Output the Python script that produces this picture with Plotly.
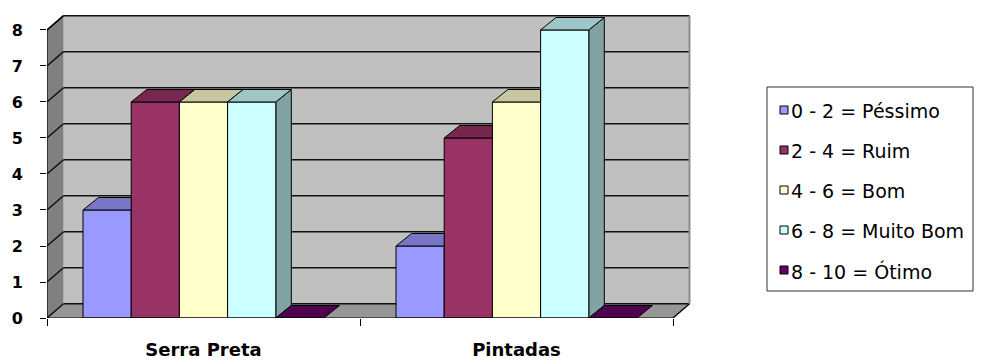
import plotly.graph_objects as go

# ---- data -------------------------------------------------------------
locais = ["Serra Preta", "Pintadas"]
classes = ["0 - 2 = Péssimo", "2 - 4 = Ruim", "4 - 6 = Bom",
           "6 - 8 = Muito Bom", "8 - 10 = Ótimo"]
pessimo = [3, 2]
ruim = [6, 5]
bom = [6, 6]
muito_bom = [6, 8]
otimo = [0, 0]
y_ticks = [0, 1, 2, 3, 4, 5, 6, 7, 8]

series = [pessimo, ruim, bom, muito_bom, otimo]

# ---- style ------------------------------------------------------------
front_colors = ["#9999FF", "#993366", "#FFFFCC", "#CCFFFF", "#660066"]


def shade(hex_color, f):
    h = hex_color.lstrip("#")
    r, g, b = (int(h[i:i + 2], 16) for i in (0, 2, 4))
    return "#{:02X}{:02X}{:02X}".format(int(r * f), int(g * f), int(b * f))


top_colors = [shade(c, 0.78) for c in front_colors]
side_colors = [shade(c, 0.64) for c in front_colors]

WALL = "#C0C0C0"
SIDE_WALL = "#808080"
FLOOR = "#969696"
GRID = "#111111"

# ---- geometry ---------------------------------------------------------
W_FIG, H_FIG = 981, 364
M_L, M_R, M_T, M_B = 47, 290, 14, 46
PW = W_FIG - M_L - M_R
PH = H_FIG - M_T - M_B
X_RANGE = [-0.5, 1.5575]
Y_RANGE = [0, 8.444]
X0_AX, X1_AX = -0.5, 1.5          # front floor edge
WDX, WDY = 0.0527, 0.397          # depth of walls (x units, y units)
BDX, BDY = 0.0495, 0.347          # depth of the bars
GAP = 0.23
BW = (1 - GAP) / len(series)
offsets = [-0.5 + GAP / 2 + j * BW for j in range(len(series))]
Y_MAX = y_ticks[-1]


def px_x(p):
    return (p - M_L) / PW


def px_y(p):
    return (H_FIG - M_B - p) / PH


def poly(pts):
    return "M " + " L ".join(f"{x:.5f},{y:.5f}" for x, y in pts) + " Z"


shapes = []


def add_path(pts, fill, line_color, width=1.0, layer="below"):
    shapes.append(dict(type="path", xref="x", yref="y", path=poly(pts),
                       fillcolor=fill, line=dict(color=line_color, width=width),
                       layer=layer))


def add_line(x0, y0, x1, y1, color=GRID, width=1.5, layer="below", xref="x", yref="y"):
    shapes.append(dict(type="line", xref=xref, yref=yref, x0=x0, y0=y0, x1=x1, y1=y1,
                       line=dict(color=color, width=width), layer=layer))


# back wall, left wall and floor
add_path([(X0_AX + WDX, WDY), (X1_AX + WDX, WDY), (X1_AX + WDX, Y_MAX + WDY),
          (X0_AX + WDX, Y_MAX + WDY)], WALL, "rgba(0,0,0,0)", 0)
add_path([(X0_AX, 0), (X0_AX + WDX, WDY), (X0_AX + WDX, Y_MAX + WDY),
          (X0_AX, Y_MAX)], SIDE_WALL, "rgba(0,0,0,0)", 0)
add_path([(X0_AX, 0), (X1_AX, 0), (X1_AX + WDX, WDY), (X0_AX + WDX, WDY)],
         FLOOR, "rgba(0,0,0,0)", 0)

# gridlines on both walls
for k in y_ticks:
    add_line(X0_AX, k, X0_AX + WDX, k + WDY)
    add_line(X0_AX + WDX, k + WDY, X1_AX + WDX, k + WDY)
add_line(X1_AX, 0, X1_AX + WDX, WDY)
add_line(X1_AX + WDX, WDY, X1_AX + WDX, Y_MAX + WDY, color="#8C8C8C", width=2)

# side faces of the bars (front faces of neighbours hide what is behind)
for i in range(len(locais)):
    for j, vals in enumerate(series):
        v = vals[i]
        if v <= 0:
            continue
        xr = i + offsets[j] + BW
        add_path([(xr, 0), (xr, v), (xr + BDX, v + BDY), (xr + BDX, BDY)],
                 side_colors[j], "#000000", 1)

# top faces of the bars
for i in range(len(locais)):
    for j, vals in enumerate(series):
        v = vals[i]
        xl = i + offsets[j]
        xr = xl + BW
        nxt = series[j + 1][i] if j + 1 < len(series) else None
        if nxt is not None and nxt > v:
            pts = [(xl, v), (xr, v), (xr, v + BDY), (xl + BDX, v + BDY)]
        else:
            pts = [(xl, v), (xr, v), (xr + BDX, v + BDY), (xl + BDX, v + BDY)]
        add_path(pts, top_colors[j], "#000000", 1, layer="above")

# front axis lines
add_line(X0_AX, 0, X0_AX, Y_MAX, color="#000000", width=1.2, layer="above")
add_line(X0_AX, Y_MAX, X0_AX + WDX, Y_MAX + WDY, color="#000000", width=1.2, layer="above")
add_line(X0_AX, 0, X1_AX, 0, color="#000000", width=1.2, layer="above")

# ---- legend (boxed, to the right of the plot) -------------------------
LEG_L, LEG_R, LEG_T, LEG_B = 767, 973, 87, 291
ROW0, ROW_STEP = 110, 40
shapes.append(dict(type="rect", xref="paper", yref="paper",
                   x0=px_x(LEG_L), x1=px_x(LEG_R), y0=px_y(LEG_B), y1=px_y(LEG_T),
                   fillcolor="#FFFFFF", line=dict(color="#333333", width=1), layer="above"))
annotations = []
for j, name in enumerate(classes):
    cy = ROW0 + j * ROW_STEP
    shapes.append(dict(type="rect", xref="paper", yref="paper",
                       x0=px_x(780), x1=px_x(788), y0=px_y(cy + 4), y1=px_y(cy - 4),
                       fillcolor=front_colors[j], line=dict(color="#000000", width=1),
                       layer="above"))
    annotations.append(dict(xref="paper", yref="paper", x=px_x(789), y=px_y(cy + 1),
                            text=name, showarrow=False, xanchor="left", yanchor="middle",
                            font=dict(family="DejaVu Sans", size=19, color="#000000")))

# ---- figure -----------------------------------------------------------
fig = go.Figure()
for j, vals in enumerate(series):
    fig.add_trace(go.Bar(
        x=locais, y=vals, name=classes[j], width=BW, offset=offsets[j],
        marker=dict(color=front_colors[j], line=dict(color="#000000", width=1)),
        showlegend=False, hoverinfo="skip",
    ))

fig.update_layout(
    width=W_FIG, height=H_FIG,
    margin=dict(l=M_L, r=M_R, t=M_T, b=M_B, pad=0, autoexpand=False),
    paper_bgcolor="#FFFFFF", plot_bgcolor="#FFFFFF",
    barmode="overlay",
    shapes=shapes, annotations=annotations,
    showlegend=False,
    xaxis=dict(type="category", range=X_RANGE, tickson="boundaries",
               ticks="outside", ticklen=7, tickwidth=1, tickcolor="#000000",
               showgrid=False, showline=False, zeroline=False, automargin=False,
               tickfont=dict(family="DejaVu Sans", size=18, color="#000000", weight="bold"),
               ticklabelstandoff=19),
    yaxis=dict(range=Y_RANGE, tickmode="array", tickvals=y_ticks,
               ticks="outside", ticklen=6, tickwidth=1, tickcolor="#000000",
               showgrid=False, showline=False, zeroline=False, automargin=False,
               tickfont=dict(family="DejaVu Sans", size=16, color="#000000", weight="bold"),
               ticklabelstandoff=14),
)

fig.write_html("out.html")
